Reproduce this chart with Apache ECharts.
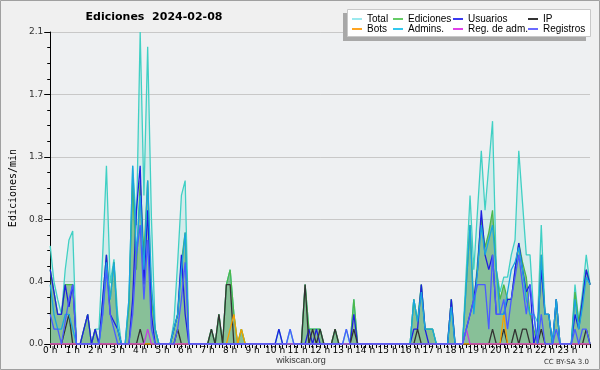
<!DOCTYPE html>
<html><head><meta charset="utf-8">
<script src="https://cdn.jsdelivr.net/npm/echarts@6/dist/echarts.min.js"></script>
<style>html,body{margin:0;padding:0;background:#f0f0f0}#c{width:600px;height:370px}</style>
</head><body><div id="c"></div>
<script>
const hourLabels = ['0 h','1 h','2 h','3 h','4 h','5 h','6 h','7 h','8 h','9 h','10 h','11 h','12 h','13 h','14 h','15 h','16 h','17 h','18 h','19 h','20 h','21 h','22 h','23 h'];
const yTicks = [0, 0.42, 0.84, 1.26, 1.68, 2.1];
const seriesNames = ['Total','Ediciones','Usuarios','IP','Bots','Admins.','Reg. de adm.','Registros'];

// one value every 10 minutes, 00:00 .. 24:00 (145 values)
const total = [0.66,0.42,0.3,0.2,0.5,0.7,0.76,0,0,0.1,0.2,0,
 0.1,0.1,0.6,1.2,0.41,0.57,0.2,0,0,0.3,1.2,0.8,
 2.1,1.0,2.0,0.85,0.1,0,0,0,0,0.15,0.55,1.0,
 1.1,0,0,0,0,0,0,0.1,0,0.2,0,0.4,
 0.5,0.2,0,0.1,0,0,0,0,0,0,0,0,
 0,0.1,0,0,0.1,0,0,0,0.4,0.1,0.1,0.1,
 0.1,0,0,0,0.1,0,0,0.1,0,0.3,0,0,
 0,0,0,0,0,0,0,0,0,0,0,0,
 0,0.3,0.15,0.4,0.1,0.1,0.1,0,0,0,0,0.3,
 0,0,0,0.5,1.0,0.5,0.9,1.3,0.9,1.2,1.5,0.5,
 0.35,0.45,0.45,0.6,0.7,1.3,0.95,0.6,0.6,0.2,0.15,0.8,
 0.2,0.2,0,0.3,0,0,0,0,0.4,0.15,0.35,0.6,
 0.4];
const ediciones = [0.5,0.35,0.2,0.2,0.4,0.4,0.4,0,0,0.1,0.2,0,
 0.1,0,0.3,0.6,0.3,0.55,0.1,0,0,0.25,1.1,0.5,
 1.1,0.6,1.1,0.3,0.1,0,0,0,0,0.1,0.2,0.55,
 0.75,0,0,0,0,0,0,0.1,0,0.2,0,0.4,
 0.5,0.2,0,0.1,0,0,0,0,0,0,0,0,
 0,0,0,0,0,0,0,0,0.4,0.1,0.1,0.1,
 0.1,0,0,0,0.1,0,0,0,0,0.3,0,0,
 0,0,0,0,0,0,0,0,0,0,0,0,
 0,0.3,0.15,0.4,0.1,0.1,0.1,0,0,0,0,0.3,
 0,0,0,0.4,0.8,0.25,0.55,0.85,0.65,0.75,0.9,0.5,
 0.3,0.4,0.3,0.3,0.5,0.68,0.55,0.45,0.2,0.1,0,0.6,
 0.2,0.2,0,0.3,0,0,0,0,0.35,0.15,0.3,0.5,
 0.4];
const usuarios = [0.5,0.35,0.2,0.2,0.4,0.25,0.4,0,0,0.1,0.2,0,
 0.1,0,0.3,0.6,0.2,0.15,0.1,0,0,0,0.3,0.9,
 1.2,0.4,0.9,0.2,0,0,0,0,0,0.1,0.2,0.6,
 0.2,0,0,0,0,0,0,0,0,0,0,0,
 0,0,0,0,0,0,0,0,0,0,0,0,
 0,0.1,0,0,0,0,0,0,0,0.1,0,0.1,
 0,0,0,0,0,0,0,0,0,0.2,0,0,
 0,0,0,0,0,0,0,0,0,0,0,0,
 0,0.1,0.1,0.4,0.1,0,0,0,0,0,0,0.3,
 0,0,0,0.1,0.2,0.3,0.5,0.9,0.6,0.5,0.6,0.2,
 0.2,0.2,0.3,0.3,0.5,0.68,0.5,0.35,0.4,0,0.1,0.5,
 0.2,0.2,0,0.3,0,0,0,0,0.2,0.1,0.3,0.5,
 0.4];
const ip = [0,0,0,0,0.1,0.2,0,0,0,0,0,0,
 0,0,0,0,0,0,0,0,0,0,0,0,
 0.1,0,0,0,0,0,0,0,0,0,0.1,0,
 0,0,0,0,0,0,0,0.1,0,0.2,0,0.4,
 0.4,0,0,0,0,0,0,0,0,0,0,0,
 0,0,0,0,0,0,0,0,0.4,0,0.1,0,
 0.1,0,0,0,0.1,0,0,0,0,0.1,0,0,
 0,0,0,0,0,0,0,0,0,0,0,0,
 0,0,0.1,0,0,0,0,0,0,0,0,0,
 0,0,0,0,0,0,0,0,0,0,0.1,0,
 0,0.1,0,0,0.1,0,0.1,0.1,0,0,0,0.1,
 0,0,0,0,0,0,0,0,0,0,0,0.1,
 0];
const bots = [0,0,0,0,0,0,0,0,0,0,0,0,
 0,0,0,0,0,0,0,0,0,0,0,0,
 0,0,0,0,0,0,0,0,0,0,0,0,
 0,0,0,0,0,0,0,0,0,0,0,0,
 0.1,0.2,0,0.1,0,0,0,0,0,0,0,0,
 0,0,0,0,0,0,0,0,0,0,0,0,
 0,0,0,0,0,0,0,0,0,0,0,0,
 0,0,0,0,0,0,0,0,0,0,0,0,
 0,0,0,0,0,0,0,0,0,0,0,0,
 0,0,0,0,0,0,0,0,0,0,0,0,
 0,0.2,0,0,0,0,0,0,0,0,0,0,
 0,0,0,0,0,0,0,0,0,0,0,0,
 0];
const admins = [0.4,0.2,0.1,0.1,0.2,0.2,0.1,0,0,0,0,0,
 0,0,0.2,0.55,0.3,0.55,0.1,0,0,0.3,1.2,0.6,
 1.0,0.5,1.1,0.4,0.1,0,0,0,0,0.1,0.2,0.5,
 0.75,0,0,0,0,0,0,0,0,0,0,0,
 0,0,0,0,0,0,0,0,0,0,0,0,
 0,0,0,0,0,0,0,0,0,0,0,0,
 0,0,0,0,0,0,0,0,0,0,0,0,
 0,0,0,0,0,0,0,0,0,0,0,0,
 0,0.3,0.15,0.35,0.1,0.1,0.1,0,0,0,0,0.25,
 0,0,0,0.4,0.8,0.2,0.5,0.8,0.6,0.7,0.8,0.5,
 0.2,0.2,0.35,0.5,0.55,0.65,0.5,0.3,0.2,0.2,0,0.6,
 0.2,0.2,0,0.3,0,0,0,0,0.3,0.1,0.25,0.45,
 0.4];
const regAdm = [0,0,0,0,0,0,0,0,0,0,0,0,
 0,0,0,0,0,0,0,0,0,0,0,0,
 0,0,0.1,0,0,0,0,0,0,0,0,0,
 0,0,0,0,0,0,0,0,0,0,0,0,
 0,0,0,0,0,0,0,0,0,0,0,0,
 0,0,0,0,0,0,0,0,0,0,0,0,
 0,0,0,0,0,0,0,0,0,0,0,0,
 0,0,0,0,0,0,0,0,0,0,0,0,
 0,0,0,0,0,0,0,0,0,0,0,0,
 0,0,0,0.1,0,0,0,0,0,0,0,0,
 0,0,0,0,0,0,0,0,0,0,0,0,
 0,0,0,0,0,0,0,0,0,0,0,0,
 0];
const registros = [0.2,0.1,0.1,0,0.15,0.3,0.4,0,0,0,0,0,
 0,0,0.2,0.5,0.2,0.1,0,0,0,0,0.2,0.6,
 0.8,0.3,0.7,0.1,0,0,0,0,0,0,0.1,0.3,
 0.55,0,0,0,0,0,0,0,0,0,0,0,
 0,0,0,0,0,0,0,0,0,0,0,0,
 0,0,0,0,0.1,0,0,0,0,0,0,0,
 0,0,0,0,0,0,0,0.1,0,0,0,0,
 0,0,0,0,0,0,0,0,0,0,0,0,
 0,0,0,0,0,0,0,0,0,0,0,0,
 0,0,0,0.1,0.2,0.3,0.4,0.4,0.4,0.1,0.6,0.2,
 0.2,0.3,0.1,0.3,0.45,0.6,0.4,0.2,0.4,0.2,0,0.2,
 0,0,0,0.1,0,0,0,0,0.1,0,0.1,0.1,
 0];

// category axis: each hour label followed by five 10-minute slots, plus 24:00
const categories = [];
hourLabels.forEach(h => { categories.push(h); for (let k = 0; k < 5; k++) categories.push(''); });
categories.push('');

const lineColors = ['#40d0c4','#4cb84c','#1f1fe0','#333333','#f5a000','#1aa6e0','#c040e0','#4a5cff'];
const legendColors = ['#9be9ee','#66cc66','#3a3af0','#333333','#ffa522','#33c8ee','#e040e8','#6a6aff'];
const dataSets = [total, ediciones, usuarios, ip, bots, admins, regAdm, registros];
const fills = ['rgba(64,208,196,0.15)','rgba(60,150,70,0.5)',null,null,null,null,null,null];

const series = seriesNames.map((name, k) => {
  const s = {
    name, type: 'line', data: dataSets[k], symbol: 'none', showSymbol: false,
    lineStyle: { color: lineColors[k], width: 1.3 }, itemStyle: { color: lineColors[k] },
    silent: true, emphasis: { disabled: true }
  };
  if (fills[k]) s.areaStyle = { color: fills[k], opacity: 1 };
  return s;
});

const legendCols = [[0,4],[1,5],[2,6],[3,7]];
const legendLeft = [352, 393, 453, 528];
const legends = legendCols.map((col, c) => ({
  orient: 'vertical', left: legendLeft[c], top: 14, itemGap: 0, padding: 0,
  itemWidth: 10, itemHeight: 2, icon: 'rect', selectedMode: false, z: 100,
  textStyle: { fontFamily: 'Liberation Sans', fontSize: 10, lineHeight: 10, color: '#000' },
  data: col.map(k => ({ name: seriesNames[k], itemStyle: { color: legendColors[k] } }))
}));

const chart = echarts.init(document.getElementById('c'), null, { renderer: 'canvas' });
chart.setOption({
  backgroundColor: '#f0f0f0',
  animation: false,
  grid: { left: 46, right: 10, top: 32, bottom: 26, show: true, backgroundColor: '#eef0f2', borderWidth: 0 },
  xAxis: {
    type: 'category', data: categories, boundaryGap: false,
    axisLine: { lineStyle: { color: '#000', width: 1 } },
    axisTick: { interval: 0, length: 4, lineStyle: { color: '#000' } },
    axisLabel: { interval: 0, fontSize: 9, color: '#000', margin: 2, fontFamily: 'DejaVu Sans' },
    splitLine: { show: false }
  },
  yAxis: {
    type: 'value', min: yTicks[0], max: yTicks[yTicks.length - 1], interval: yTicks[1],
    name: 'Ediciones/min', nameLocation: 'middle', nameGap: 32,
    nameTextStyle: { fontFamily: 'DejaVu Sans Mono', fontSize: 10, color: '#000' },
    axisLine: { show: true, lineStyle: { color: '#000' } },
    axisTick: { show: true, length: 6, lineStyle: { color: '#000' } },
    minorTick: { show: true, splitNumber: 4, length: 3, lineStyle: { color: '#000' } },
    axisLabel: { formatter: v => v.toFixed(1), fontSize: 9, color: '#333', margin: 7, fontFamily: 'DejaVu Sans' },
    splitLine: { lineStyle: { color: '#c8c8c8' } }
  },
  legend: legends,
  graphic: { elements: [
    { type: 'rect', z: 90, silent: true, shape: { x: 0.5, y: 0.5, width: 599, height: 369 }, style: { fill: 'none', stroke: '#a0a0a0', lineWidth: 1 } },
    { type: 'rect', z: 90, silent: true, shape: { x: 343, y: 13, width: 243, height: 28 }, style: { fill: '#a8a8a8' } },
    { type: 'rect', z: 91, silent: true, shape: { x: 347.5, y: 9.5, width: 243, height: 27 }, style: { fill: '#ffffff', stroke: '#c8c8c8', lineWidth: 1 } },
    { type: 'text', z: 92, silent: true, x: 154, y: 17, style: { text: 'Ediciones  2024-02-08', font: 'bold 11px "DejaVu Sans"', fill: '#000', align: 'center', verticalAlign: 'middle' } },
    { type: 'text', z: 92, silent: true, x: 301, y: 361, style: { text: 'wikiscan.org', font: '9px "Liberation Sans"', fill: '#333', align: 'center', verticalAlign: 'middle' } },
    { type: 'text', z: 92, silent: true, x: 589, y: 362, style: { text: 'CC BY-SA 3.0', font: '7px "DejaVu Sans"', fill: '#333', align: 'right', verticalAlign: 'middle' } }
  ] },
  series
});
</script></body></html>
